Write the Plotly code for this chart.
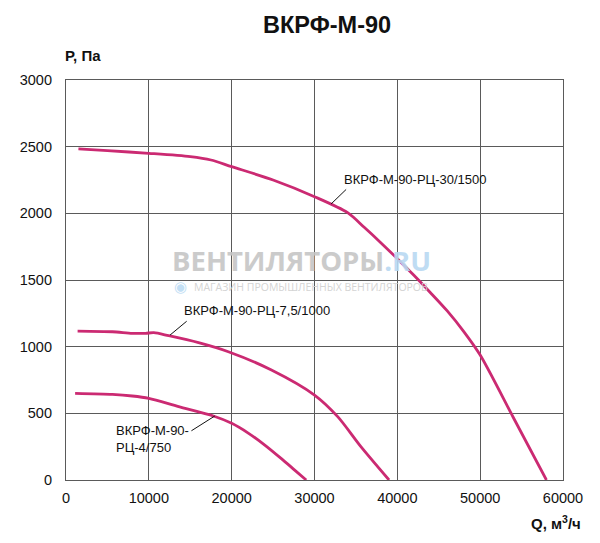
import plotly.graph_objects as go

# характеристики вентиляторов ВКРФ-М-90
q_30 = [1500, 5000, 10000, 15000, 17500, 20000, 25000, 30000, 34000, 36000, 38000, 40000, 42000, 44000, 46000, 48000, 50000, 54000, 58000]
p_30 = [2483, 2470, 2450, 2425, 2400, 2350, 2250, 2125, 2005, 1895, 1780, 1660, 1535, 1405, 1270, 1115, 937, 469, 0]

q_7 = [1400, 5600, 8000, 9600, 10600, 12400, 16000, 19600, 24800, 30000, 32800, 35600, 39000]
p_7 = [1117, 1112, 1100, 1100, 1105, 1082, 1030, 962, 825, 637, 475, 250, 0]

q_4 = [1100, 5600, 8000, 10000, 13600, 17800, 20000, 22000, 24000, 26000, 27500, 29000]
p_4 = [650, 642, 630, 612, 550, 480, 425, 352, 262, 160, 80, 0]

x_ticks = [0, 10000, 20000, 30000, 40000, 50000, 60000]
y_ticks = [0, 500, 1000, 1500, 2000, 2500, 3000]

curve_color = '#CB2A72'
grid_color = '#5a5a5a'
font = 'Liberation Sans, Arial, sans-serif'

fig = go.Figure()
for q, p in [(q_30, p_30), (q_7, p_7), (q_4, p_4)]:
    fig.add_trace(go.Scatter(x=q, y=p, mode='lines',
                             line=dict(color=curve_color, width=2.8, shape='spline', smoothing=0.8),
                             showlegend=False, hoverinfo='x+y'))

# подписи кривых
labels = [
    ('ВКРФ-М-90-РЦ-30/1500', 42200, 2257, 'center'),
    ('ВКРФ-М-90-РЦ-7,5/1000', 23000, 1270, 'center'),
    ('ВКРФ-М-90-<br>РЦ-4/750', 5800, 310, 'left'),
]
for text, x, y, anchor in labels:
    fig.add_annotation(x=x, y=y, text=text, showarrow=False, xanchor=anchor, align='left',
                       font=dict(family=font, size=13, color='#111'))

# выноски
leaders = [(32000, 2070, 34000, 2190), (12560, 1087, 14750, 1200), (17960, 480, 14960, 362)]
for x, y, ax, ay in leaders:
    fig.add_annotation(x=x, y=y, ax=ax, ay=ay, axref='x', ayref='y', text='',
                       showarrow=True, arrowhead=0, arrowwidth=1, arrowcolor='#111',
                       standoff=0, startstandoff=0)

# водяной знак
fig.add_annotation(x=28470, y=1650, showarrow=False,
                   text='<b>ВЕНТИЛЯТОРЫ<span style="color:#b9d9f2">.RU</span></b>',
                   font=dict(family='Open Sans, sans-serif', size=27.5, color='#c6c6c6'), opacity=0.9)
fig.add_annotation(x=29600, y=1450, showarrow=False, text='МАГАЗИН ПРОМЫШЛЕННЫХ ВЕНТИЛЯТОРОВ',
                   font=dict(family='Open Sans, sans-serif', size=10.5, color='#d0d0d0'), opacity=0.9)
fig.add_annotation(x=13770, y=1450, showarrow=False, text='◉',
                   font=dict(family='DejaVu Sans', size=15, color='#bcdcf4'), opacity=0.9)

fig.add_annotation(xref='paper', yref='paper', x=-0.006, y=1.0, yshift=25, xanchor='left', yanchor='middle',
                   text='<b>P, Па</b>', showarrow=False, font=dict(family=font, size=15, color='#111'))
fig.add_annotation(xref='paper', yref='paper', x=1.04, y=0, yshift=-42, xanchor='right', yanchor='middle',
                   text='<b>Q, м<sup>3</sup>/ч</b>', showarrow=False, font=dict(family=font, size=15, color='#111'))

# страница сдвигает график на 8 px (отступ body), поэтому размер 592x535
fig.update_layout(
    width=592, height=535,
    margin=dict(l=55, r=37, t=72, b=63),
    paper_bgcolor='white', plot_bgcolor='white',
    title=dict(text='<b>ВКРФ-М-90</b>', x=0.539, xanchor='center', y=0.968, yanchor='middle',
               font=dict(family=font, size=23.5, color='#111')),
    font=dict(family=font, size=14.5, color='#111'),
)
fig.update_xaxes(range=[0, 60000], tickvals=x_ticks, ticktext=[str(v) for v in x_ticks],
                 showgrid=True, gridcolor=grid_color, gridwidth=1.2,
                 showline=True, linecolor=grid_color, linewidth=1.2, mirror=True,
                 zeroline=False, ticks='', ticklabelstandoff=4)
fig.update_yaxes(range=[0, 3000], tickvals=y_ticks, ticktext=[str(v) for v in y_ticks],
                 showgrid=True, gridcolor=grid_color, gridwidth=1.2,
                 showline=True, linecolor=grid_color, linewidth=1.2, mirror=True,
                 zeroline=False, ticks='', ticklabelstandoff=10)

fig.write_html('out.html')
